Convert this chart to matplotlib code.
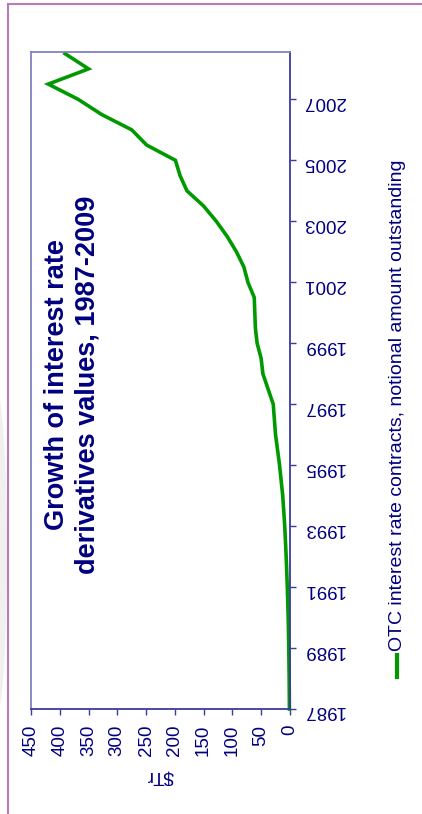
import matplotlib.pyplot as plt
from matplotlib.lines import Line2D
from matplotlib.patches import Ellipse

plt.rcParams['font.family'] = ['Liberation Sans', 'DejaVu Sans']

# notional amount outstanding, $Tr (annual to 1997, then half-yearly)
years = [1987, 1988, 1989, 1990, 1991, 1992, 1993, 1994, 1995, 1996,
         1997, 1997.5, 1998, 1998.5, 1999, 1999.5, 2000, 2000.5,
         2001, 2001.5, 2002, 2002.5, 2003, 2003.5, 2004, 2004.5,
         2005, 2005.5, 2006, 2006.5, 2007, 2007.5, 2008, 2008.5]
values = [0.9, 1.3, 2.0, 3.0, 4.5, 6.5, 9.0, 12.5, 18.0, 25.0,
          29.0, 38.0, 47.0, 50.0, 57.0, 60.0, 61.0, 62.0,
          73.0, 80.0, 93.0, 109.0, 128.0, 150.0, 179.0, 191.0,
          199.0, 249.0, 275.0, 327.0, 368.0, 420.0, 350.0, 391.0]
year_ticks = [1987, 1989, 1991, 1993, 1995, 1997, 1999, 2001, 2003, 2005, 2007]
value_ticks = [0, 50, 100, 150, 200, 250, 300, 350, 400, 450]

title = "Growth of interest rate\nderivatives values, 1987-2009"
series_name = "OTC interest rate contracts, notional amount outstanding"

navy = '#000080'
axis_dark = '#3a3aa0'
axis_light = '#8080c0'
green = '#009900'

fig = plt.figure(figsize=(4.22, 8.14), dpi=100)

# slide decoration
fig.add_artist(Ellipse((-0.01, 0.32), 0.05, 0.40, transform=fig.transFigure,
                       color='#f0f0f0', zorder=0))
fig.add_artist(Line2D([0.02, 0.02], [0.0, 0.995], transform=fig.transFigure,
                      color='#b87cb8', lw=1.5))
fig.add_artist(Line2D([0.02, 1.0], [0.995, 0.995], transform=fig.transFigure,
                      color='#b87cb8', lw=1.5))

ax = fig.add_axes([0.0735, 0.129, 0.6135, 0.807])
ax.plot(values, years, color=green, lw=2.6, solid_joinstyle='miter', clip_on=False)

ax.set_xlim(450, 0)
ax.set_ylim(1987, 2008.55)

ax.yaxis.tick_right()
ax.set_yticks(year_ticks)
ax.set_yticklabels([str(y) for y in year_ticks], rotation=180)
ax.set_xticks(value_ticks)
ax.set_xticklabels([str(v) for v in value_ticks], rotation=90, va='top')
ax.tick_params(axis='y', direction='out', length=4.5, width=1, color=axis_dark,
               labelcolor=navy, labelsize=13.5, pad=5)
ax.tick_params(axis='x', direction='out', length=4.5, width=1, color=axis_dark,
               labelcolor=navy, labelsize=13.5, pad=7)
ax.set_xlabel('$Tr', rotation=180, color=navy, fontsize=13.5, labelpad=8)

for side in ['bottom', 'right']:
    ax.spines[side].set_color(axis_dark)
    ax.spines[side].set_linewidth(1.3)
for side in ['top', 'left']:
    ax.spines[side].set_color(axis_light)
    ax.spines[side].set_linewidth(1.3)

fig.text(0.171, 0.527, title, rotation=90, ha='center', va='center',
         multialignment='center', fontsize=19.5, fontweight='bold', color=navy,
         linespacing=1.2)

# legend, turned like the chart
fig.add_artist(Line2D([0.941, 0.941], [0.168, 0.195], transform=fig.transFigure,
                      color=green, lw=3))
fig.text(0.943, 0.20, series_name, rotation=90, ha='center', va='bottom',
         fontsize=14, color=navy)

fig.savefig('out.png', dpi=100)
